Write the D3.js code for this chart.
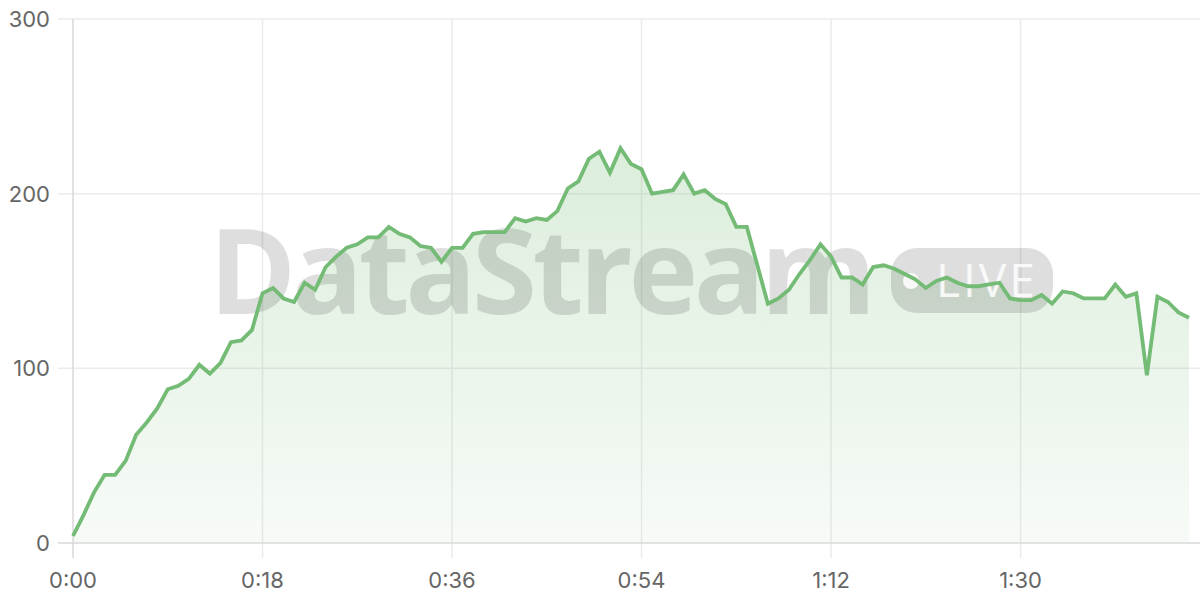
<!DOCTYPE html>
<html>
<head>
<meta charset="utf-8">
<script src="https://cdn.jsdelivr.net/npm/d3@7"></script>
<style>
  html, body { margin: 0; padding: 0; background: #fff; }
  svg { display: block; }
</style>
</head>
<body>
<svg id="chart" width="1200" height="600"></svg>
<script>
// ---- data ----
const seconds = d3.range(0, 107);
const values = [
  4, 16, 29, 39, 39, 47, 62, 69, 77, 88,
  90, 94, 102, 97, 103, 115, 116, 122, 143, 146,
  140, 138, 149, 145, 158, 164, 169, 171, 175, 175,
  181, 177, 175, 170, 169, 161, 169, 169, 177, 178,
  178, 178, 186, 184, 186, 185, 190, 203, 207, 220,
  224, 212, 226, 217, 214, 200, 201, 202, 211, 200,
  202, 197, 194, 181, 181, 159, 137, 140, 145, 154,
  162, 171, 164, 152, 152, 148, 158, 159, 157, 154,
  151, 146, 150, 152, 149, 147, 147, 148, 149, 140,
  139, 139, 142, 137, 144, 143, 140, 140, 140, 148,
  141, 143, 96, 141, 138, 132, 129
];
const xTicks = [0, 18, 36, 54, 72, 90];
const yTicks = [0, 100, 200, 300];
const watermarkText = "DataStream";
const badgeText = "LIVE";

// ---- layout ----
const W = 1200, H = 600;
const mLeft = 73, mRight = 1189, mTop = 19, mBottom = 543;
const data = seconds.map((s, i) => ({ s, v: values[i] }));

const x = d3.scaleLinear().domain([0, 106]).range([mLeft, mRight]);
const y = d3.scaleLinear().domain([0, 300]).range([mBottom, mTop]);
const fmt = s => Math.floor(s / 60) + ":" + String(s % 60).padStart(2, "0");

const svg = d3.select("#chart");
const FONT = "Inter, 'Liberation Sans', Arial, sans-serif";

const defs = svg.append("defs");
const grad = defs.append("linearGradient")
  .attr("id", "areaGrad").attr("gradientUnits", "userSpaceOnUse")
  .attr("x1", 0).attr("x2", 0).attr("y1", y(300)).attr("y2", y(0));
grad.append("stop").attr("offset", "0%").attr("stop-color", "#74bb75").attr("stop-opacity", 0.32);
grad.append("stop").attr("offset", "100%").attr("stop-color", "#74bb75").attr("stop-opacity", 0.06);

// horizontal grid
svg.append("g").selectAll("line").data(yTicks.filter(t => t > 0)).join("line")
  .attr("x1", mLeft - 15).attr("x2", W)
  .attr("y1", d => y(d)).attr("y2", d => y(d))
  .attr("stroke", "#ebebeb").attr("stroke-width", 1.5);

// vertical grid
svg.append("g").selectAll("line").data(xTicks.filter(t => t > 0)).join("line")
  .attr("x1", d => x(d)).attr("x2", d => x(d))
  .attr("y1", mTop).attr("y2", mBottom + 15)
  .attr("stroke", "#ebebeb").attr("stroke-width", 1.5);

// area
svg.append("path").datum(data)
  .attr("fill", "url(#areaGrad)")
  .attr("d", d3.area().x(d => x(d.s)).y0(y(0)).y1(d => y(d.v)));

// axes lines
svg.append("line").attr("x1", mLeft - 15).attr("x2", W).attr("y1", y(0)).attr("y2", y(0))
  .attr("stroke", "#d9d9d9").attr("stroke-width", 1.5);
svg.append("line").attr("x1", mLeft).attr("x2", mLeft).attr("y1", mTop).attr("y2", mBottom + 15)
  .attr("stroke", "#d9d9d9").attr("stroke-width", 1.5);

// watermark
const wm = svg.append("g").attr("fill", "#000").attr("fill-opacity", 0.13);
wm.append("text").attr("x", 209).attr("y", 314)
  .attr("font-family", "'Open Sans', 'Noto Sans', sans-serif").attr("font-weight", 700)
  .attr("font-size", 118).attr("letter-spacing", -4.5)
  .text(watermarkText);
wm.append("rect").attr("x", 891).attr("y", 248).attr("width", 162).attr("height", 65)
  .attr("rx", 26).attr("ry", 26);
const badge = svg.append("g").attr("fill", "#fff").attr("fill-opacity", 0.85);
badge.append("circle").attr("cx", 911).attr("cy", 281).attr("r", 8);
badge.append("text").attr("x", 936).attr("y", 297)
  .attr("font-family", "'Open Sans', 'Noto Sans', sans-serif").attr("font-weight", 400)
  .attr("font-size", 46).attr("letter-spacing", 3).text(badgeText);

// line
svg.append("path").datum(data)
  .attr("fill", "none").attr("stroke", "#74bb75").attr("stroke-width", 3.8)
  .attr("stroke-linejoin", "miter")
  .attr("d", d3.line().x(d => x(d.s)).y(d => y(d.v)));

// y labels
svg.append("g").selectAll("text").data(yTicks).join("text")
  .attr("x", 50).attr("y", d => y(d)).attr("dy", "0.36em")
  .attr("text-anchor", "end").attr("font-family", FONT).attr("font-size", 22)
  .attr("fill", "#666").text(d => d);

// x labels
svg.append("g").selectAll("text").data(xTicks).join("text")
  .attr("x", d => x(d)).attr("y", 588)
  .attr("text-anchor", "middle").attr("font-family", FONT).attr("font-size", 22)
  .attr("fill", "#666").text(d => fmt(d));
</script>
</body>
</html>
